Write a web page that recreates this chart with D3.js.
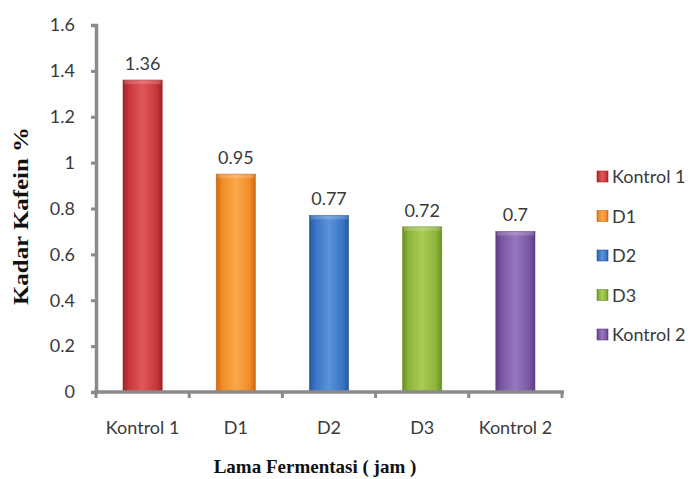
<!DOCTYPE html>
<html><head><meta charset="utf-8">
<script src="https://cdn.jsdelivr.net/npm/d3@7"></script>
<style>body{margin:0;background:#fff}svg{display:block}</style>
</head><body>
<script>
const categories = ["Kontrol 1","D1","D2","D3","Kontrol 2"];
const values = [1.36,0.95,0.77,0.72,0.7];
const valueLabels = ["1.36","0.95","0.77","0.72","0.7"];
const yTicks = [0,0.2,0.4,0.6,0.8,1,1.2,1.4,1.6];
const yTickLabels = ["0","0.2","0.4","0.6","0.8","1","1.2","1.4","1.6"];
const colors = ["#C8373A","#F28C28","#3A74C4","#8CB43A","#7B57A3"];
const darkColors = ["#9E2426","#C96A12","#28589C","#6A8E25","#5B3D80"];
const lightColors = ["#E0575A","#F8A94A","#5A93DA","#A8CC55","#9676BE"];

const W=692,H=479;
const svg=d3.select("body").append("svg").attr("width",W).attr("height",H);
const font="Lato, 'Open Sans', sans-serif";
const serif="'Liberation Serif','Times New Roman',serif";
const x=d3.scaleBand().domain(categories).range([96,562]).paddingInner(0.58).paddingOuter(0.29);
const y=d3.scaleLinear().domain([0,1.6]).range([392,25]);

const defs=svg.append("defs");
categories.forEach((c,i)=>{
  const g=defs.append("linearGradient").attr("id","g"+i).attr("x1","0").attr("x2","1").attr("y1","0").attr("y2","0");
  g.append("stop").attr("offset","0").attr("stop-color",darkColors[i]);
  g.append("stop").attr("offset","0.15").attr("stop-color",colors[i]);
  g.append("stop").attr("offset","0.5").attr("stop-color",lightColors[i]);
  g.append("stop").attr("offset","0.85").attr("stop-color",colors[i]);
  g.append("stop").attr("offset","1").attr("stop-color",darkColors[i]);
});

// bars
svg.selectAll("rect.bar").data(values).enter().append("rect").attr("class","bar")
  .attr("x",(d,i)=>x(categories[i])).attr("width",x.bandwidth())
  .attr("y",d=>y(d)).attr("height",d=>y(0)-y(d))
  .attr("fill",(d,i)=>`url(#g${i})`).attr("stroke",(d,i)=>darkColors[i]).attr("stroke-width",0.6);
svg.selectAll("rect.cap").data(values).enter().append("rect").attr("class","cap")
  .attr("x",(d,i)=>x(categories[i])+1).attr("width",x.bandwidth()-2)
  .attr("y",d=>y(d)).attr("height",4).attr("fill","#fff").attr("opacity",0.18);

// value labels
svg.selectAll("text.val").data(values).enter().append("text").attr("class","val")
  .attr("x",(d,i)=>x(categories[i])+x.bandwidth()/2).attr("y",d=>y(d)-10)
  .attr("text-anchor","middle").attr("font-family",font).attr("font-size",18).attr("fill","#3a3a3a")
  .text((d,i)=>valueLabels[i]);

// y axis
const yAxis=d3.axisLeft(y).tickValues(yTicks).tickFormat((d,i)=>yTickLabels[i]).tickSize(5).tickPadding(16);
const ya=svg.append("g").attr("transform","translate(96,0)").call(yAxis);
ya.select(".domain").attr("stroke","#8a8a8a").attr("stroke-width",3.5);
ya.selectAll(".tick line").attr("stroke","#8a8a8a").attr("stroke-width",3);
ya.selectAll("text").attr("font-family",font).attr("font-size",18).attr("fill","#3a3a3a");

// x axis
const xa=svg.append("g").attr("transform","translate(0,392)");
xa.append("line").attr("x1",94).attr("x2",564).attr("y1",0).attr("y2",0).attr("stroke","#8a8a8a").attr("stroke-width",3.5);
const bounds=categories.map(c=>x(c)-x.step()*x.paddingInner()/2);
bounds.push(562);
xa.selectAll("line.t").data(bounds).enter().append("line").attr("class","t")
  .attr("x1",d=>d).attr("x2",d=>d).attr("y1",0).attr("y2",6).attr("stroke","#8a8a8a").attr("stroke-width",3);
xa.selectAll("text").data(categories).enter().append("text")
  .attr("x",d=>x(d)+x.bandwidth()/2).attr("y",42).attr("text-anchor","middle")
  .attr("font-family",font).attr("font-size",18).attr("fill","#3a3a3a").text(d=>d);

// titles
svg.append("text").attr("x",315).attr("y",473).attr("text-anchor","middle")
  .attr("font-family",serif).attr("font-weight","bold").attr("font-size",19)
  .attr("fill","#111").text("Lama Fermentasi ( jam )");
svg.append("text").attr("transform","translate(28,216) rotate(-90)").attr("text-anchor","middle")
  .attr("font-family",serif).attr("font-weight","bold").attr("font-size",20)
  .attr("textLength",178).attr("lengthAdjust","spacingAndGlyphs")
  .attr("fill","#111").text("Kadar Kafein %");

// legend
const lg=svg.append("g");
const ly=d3.scalePoint().domain(categories).range([177,335]);
categories.forEach((c,i)=>{
  lg.append("rect").attr("x",597).attr("y",ly(c)-6).attr("width",11).attr("height",11)
    .attr("fill",`url(#g${i})`).attr("stroke",darkColors[i]).attr("stroke-width",0.6);
  lg.append("text").attr("x",612).attr("y",ly(c)+6).attr("font-family",font).attr("font-size",18)
    .attr("fill","#3a3a3a").text(c);
});
</script>
</body></html>
